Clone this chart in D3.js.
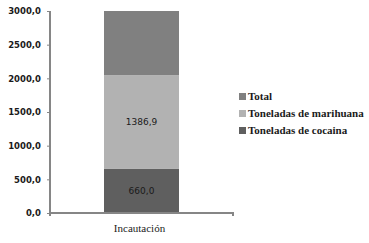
<!DOCTYPE html>
<html lang="es">
<head>
	<meta charset="UTF-8">
	<title>Incautación</title>
	<script src="https://cdn.jsdelivr.net/npm/d3@7"></script>
	<style>
		body { margin: 0; background: #fff; }
		text { fill: #1a1a1a; }
	</style>
</head>
<body>
	<svg id="svg"></svg>
	<script>
		var categories = ["Incautación"];
		var seriesNames = ["Toneladas de cocaina", "Toneladas de marihuana", "Total"];
		var cocaina = [660.0];
		var marihuana = [1386.9];
		var total = [2046.9];
		var yTicks = [0, 500, 1000, 1500, 2000, 2500, 3000];
		var colors = ["#5f5f5f", "#b2b2b2", "#808080"];

		var w = 369, h = 243,
			svg = d3.select("#svg").attr("width", w).attr("height", h),
			mLeft = 50, mRight = 233, mTop = 11, mBottom = 213;

		var rows = categories.map(function(c, i) {
			return { cat: c, "Toneladas de cocaina": cocaina[i], "Toneladas de marihuana": marihuana[i], "Total": total[i] };
		});
		var stacked = d3.stack().keys(seriesNames)(rows);

		var x = d3.scaleBand().domain(categories).range([mLeft, mRight]).paddingInner(0).paddingOuter(0.72);
		var y = d3.scaleLinear().domain([0, 3000]).range([mBottom, mTop]);
		var fmt = function(v) { return d3.format(".1f")(v).replace(".", ","); };

		svg.append("clipPath").attr("id", "plot")
			.append("rect").attr("x", mLeft).attr("y", mTop).attr("width", mRight - mLeft).attr("height", mBottom - mTop);

		var g = svg.append("g").attr("clip-path", "url(#plot)");
		stacked.forEach(function(s, si) {
			g.selectAll(null).data(s).enter().append("rect")
				.attr("x", function(d, i) { return x(categories[i]); })
				.attr("width", x.bandwidth())
				.attr("y", function(d) { return y(d[1]); })
				.attr("height", function(d) { return y(d[0]) - y(d[1]); })
				.attr("fill", colors[si]);
		});

		// data labels (only for segments inside the axis range)
		stacked.forEach(function(s, si) {
			s.forEach(function(d, i) {
				if (d[1] > 3000) return;
				svg.append("text")
					.attr("x", x(categories[i]) + x.bandwidth() / 2)
					.attr("y", (y(d[0]) + y(d[1])) / 2 + 3.5)
					.attr("text-anchor", "middle")
					.style("font", "9px 'DejaVu Sans'")
					.text(fmt(d[1] - d[0]));
			});
		});

		// y axis
		var yAxis = svg.append("g").attr("transform", "translate(" + mLeft + ",0)")
			.call(d3.axisLeft(y).tickValues(yTicks).tickSize(3).tickPadding(6).tickFormat(fmt));
		yAxis.select(".domain").attr("stroke", "#868686").attr("stroke-width", 2).attr("d", "M0," + mTop + "V" + (mBottom + 3));
		yAxis.selectAll(".tick line").attr("stroke", "#868686");
		yAxis.selectAll("text").style("font", "bold 8.5px 'DejaVu Sans'").attr("fill", "#1f1a2e");

		// x axis
		var xAxis = svg.append("g").attr("transform", "translate(0," + mBottom + ")")
			.call(d3.axisBottom(x).tickSize(0));
		xAxis.select(".domain").attr("stroke", "#868686").attr("stroke-width", 2).attr("d", "M" + mLeft + ",0H" + mRight + "V3");
		xAxis.selectAll("text").attr("y", 19).attr("dy", 0).attr("dx", -2)
			.style("font-family", "'Liberation Serif', serif").style("font-size", "11px").attr("fill", "#1a1a2a");

		// legend
		var legend = svg.append("g");
		var legendItems = seriesNames.slice().reverse();
		legendItems.forEach(function(name, i) {
			var ly = 100 + i * 17;
			legend.append("rect").attr("x", 239).attr("y", ly - 7).attr("width", 7).attr("height", 7)
				.attr("fill", colors[seriesNames.indexOf(name)]);
			legend.append("text").attr("x", 248).attr("y", ly)
				.style("font-family", "'Liberation Serif', serif")
				.style("font-size", "11px").style("font-weight", "bold")
				.text(name);
		});
	</script>
</body>
</html>
